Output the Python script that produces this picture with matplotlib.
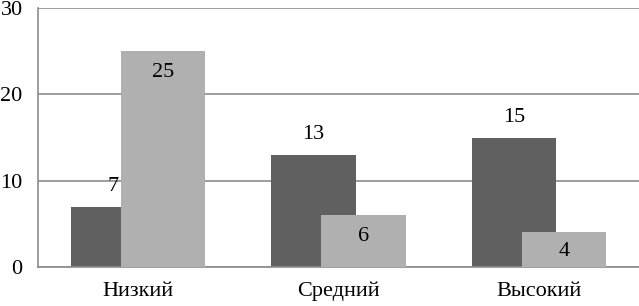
import numpy as np
import matplotlib.pyplot as plt

# данные
categories = ["Низкий", "Средний", "Высокий"]
series_dark = [7, 13, 15]
series_light = [25, 6, 4]

plt.rcParams['font.family'] = ['Liberation Serif', 'DejaVu Serif']

fig = plt.figure(figsize=(6.39, 3.06), dpi=100)
ax = fig.add_axes([38 / 639, 39 / 306, 601 / 639, 259 / 306])

x = np.arange(len(categories))
w = 0.42
dark = ax.bar(x - 0.125, series_dark, w, color="#606060", zorder=2)
light = ax.bar(x + 0.125, series_light, w, color="#b0b0b0", zorder=3)

# подписи: темные над столбцом, светлые внутри
for rect, v in zip(dark, series_dark):
    ax.annotate(str(v), (rect.get_x() + rect.get_width() / 2, v),
                xytext=(0, 14.5), textcoords="offset points",
                ha="center", va="center", fontsize=16, zorder=4)
for rect, v in zip(light, series_light):
    off = -min(15.5, v * 8.63 * 0.72 / 2 + 1)
    ax.annotate(str(v), (rect.get_x() + rect.get_width() / 2, v),
                xytext=(0, off), textcoords="offset points",
                ha="center", va="center", fontsize=16, zorder=4)

ax.set_xlim(-0.5, 2.5)
ax.set_ylim(0, 30)
ax.set_yticks([0, 10, 20, 30])
ax.set_xticks(x)
ax.set_xticklabels(categories)
ax.tick_params(axis="both", length=0, labelsize=16)
ax.tick_params(axis="y", pad=11)
ax.tick_params(axis="x", pad=10.5)

ax.grid(axis="y", color="#8c8c8c", linewidth=1.2, zorder=1)
ax.set_axisbelow(True)
for s in ["top", "right"]:
    ax.spines[s].set_visible(False)
for s in ["left", "bottom"]:
    ax.spines[s].set_color("#8c8c8c")
    ax.spines[s].set_linewidth(1.2)

fig.savefig("out.png", dpi=100)
